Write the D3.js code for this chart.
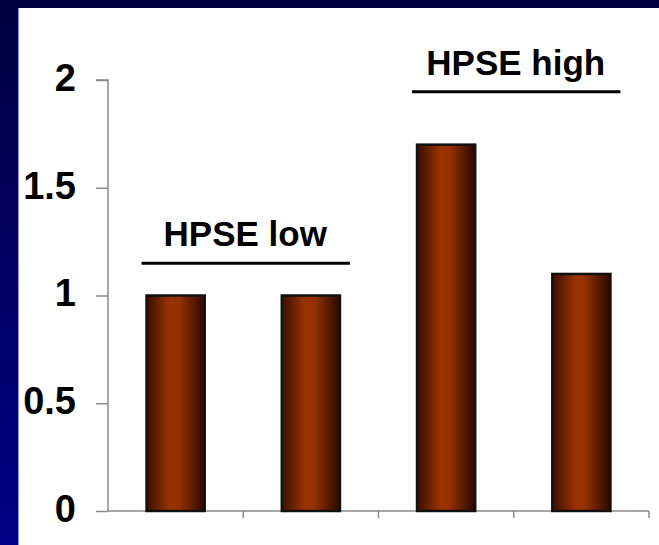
<!DOCTYPE html>
<html>
<head>
<meta charset="utf-8">
<script src="https://cdn.jsdelivr.net/npm/d3@7"></script>
<style>
  html, body { margin: 0; padding: 0; background: #fff; }
  svg { display: block; }
</style>
</head>
<body>
<div class="chart"></div>
<script>
const width = 659,
    height = 545,
    margin = { top: 80, bottom: 34, left: 108, right: 10 };

// bar values
const categories = ["a", "b", "c", "d"];
const values = [1.0, 1.0, 1.7, 1.1];
const yTicks = [0, 0.5, 1, 1.5, 2];
const groups = [
    { label: "HPSE low", from: "a", to: "b", level: 1.15 },
    { label: "HPSE high", from: "c", to: "d", level: 1.945 }
];

const svg = d3.select(".chart")
    .append("svg")
    .attr("width", width)
    .attr("height", height);

const defs = svg.append("defs");

// dark frame, top and left
const frameGrad = defs.append("linearGradient")
    .attr("id", "frame")
    .attr("x1", 0).attr("y1", 0).attr("x2", 0).attr("y2", 1);
frameGrad.append("stop").attr("offset", "0%").attr("stop-color", "#000040");
frameGrad.append("stop").attr("offset", "100%").attr("stop-color", "#000085");

const barGrad = defs.append("linearGradient")
    .attr("id", "bar")
    .attr("x1", 0).attr("y1", 0).attr("x2", 1).attr("y2", 0);
barGrad.append("stop").attr("offset", "0%").attr("stop-color", "#3a0e00");
barGrad.append("stop").attr("offset", "40%").attr("stop-color", "#993300");
barGrad.append("stop").attr("offset", "55%").attr("stop-color", "#963200");
barGrad.append("stop").attr("offset", "100%").attr("stop-color", "#2a0800");

svg.append("rect")
    .attr("x", 0).attr("y", 0)
    .attr("width", 18).attr("height", height)
    .attr("fill", "url(#frame)");
svg.append("rect")
    .attr("x", 0).attr("y", 0)
    .attr("width", width).attr("height", 8)
    .attr("fill", "#000040");
svg.append("line")
    .attr("x1", 18.5).attr("x2", 18.5)
    .attr("y1", 8).attr("y2", height)
    .attr("stroke", "#9090e0")
    .attr("stroke-width", 1);

const xScale = d3.scaleBand()
    .domain(categories)
    .range([margin.left, width - margin.right])
    .paddingInner(0.57)
    .paddingOuter(0.285);

const yScale = d3.scaleLinear()
    .domain([0, 2])
    .range([height - margin.bottom, margin.top]);

// y axis
const yAxis = d3.axisLeft(yScale)
    .tickValues(yTicks)
    .tickFormat(d3.format("~g"))
    .tickSize(12)
    .tickPadding(20);

const yAxisGroup = svg.append("g")
    .attr("class", "yAxis")
    .attr("transform", `translate(${margin.left}, 0)`)
    .call(yAxis);
yAxisGroup.select(".domain").attr("stroke", "#8a8a8a").attr("stroke-width", 1.5)
    .attr("d", `M-12,${yScale(2)}H0V${yScale(0)}`);
yAxisGroup.selectAll(".tick line").attr("stroke", "#8a8a8a").attr("stroke-width", 1.5);
yAxisGroup.selectAll(".tick text")
    .attr("fill", "#000")
    .attr("font-family", "Liberation Sans, Arial, sans-serif")
    .attr("font-weight", "bold")
    .attr("font-size", 38)
    .attr("dy", "0.27em");

// x axis: ticks at band boundaries
const step = xScale.step();
const boundaries = categories.map((c, i) => margin.left + step * (i + 1));

const xAxisGroup = svg.append("g")
    .attr("class", "xAxis")
    .attr("transform", `translate(0, ${yScale(0)})`);
xAxisGroup.append("line")
    .attr("x1", margin.left).attr("x2", width - margin.right)
    .attr("stroke", "#8a8a8a").attr("stroke-width", 1.5);
xAxisGroup.selectAll(".xtick")
    .data(boundaries)
    .join("line")
    .attr("class", "xtick")
    .attr("x1", d => d).attr("x2", d => d)
    .attr("y1", 0).attr("y2", 7)
    .attr("stroke", "#8a8a8a").attr("stroke-width", 1.5);

// bars
svg.selectAll(".bar")
    .data(values)
    .join("rect")
    .attr("class", "bar")
    .attr("x", (d, i) => xScale(categories[i]))
    .attr("y", d => yScale(d))
    .attr("width", xScale.bandwidth())
    .attr("height", d => yScale(0) - yScale(d))
    .attr("fill", "url(#bar)")
    .attr("stroke", "#111")
    .attr("stroke-width", 2.5);

// group labels with underline
const lab = svg.selectAll(".group")
    .data(groups)
    .join("g")
    .attr("class", "group");

lab.append("line")
    .attr("x1", d => xScale(d.from) - 5)
    .attr("x2", d => xScale(d.to) + xScale.bandwidth() + 10)
    .attr("y1", d => yScale(d.level))
    .attr("y2", d => yScale(d.level))
    .attr("stroke", "#000")
    .attr("stroke-width", 3);

lab.append("text")
    .attr("x", d => (xScale(d.from) + xScale(d.to) + xScale.bandwidth()) / 2 + 2)
    .attr("y", d => yScale(d.level) - 17)
    .attr("text-anchor", "middle")
    .attr("font-family", "Liberation Sans, Arial, sans-serif")
    .attr("font-weight", "bold")
    .attr("font-size", 35)
    .text(d => d.label);
</script>
</body>
</html>
